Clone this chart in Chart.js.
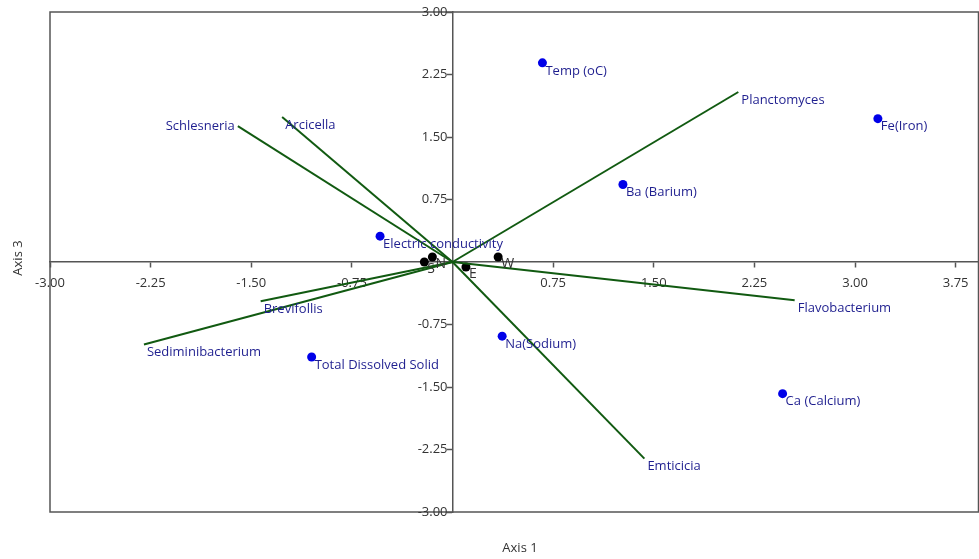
<!DOCTYPE html>
<html>
<head>
<meta charset="utf-8">
<script src="https://cdn.jsdelivr.net/npm/chart.js@4.4.1/dist/chart.umd.min.js"></script>
<style>
	html, body { margin: 0; padding: 0; background: #ffffff; overflow: hidden; }
	#wrap { width: 979px; height: 559px; position: relative; overflow: hidden; }
</style>
</head>
<body>
<div id="wrap"><canvas id="biplot" width="983" height="559"></canvas></div>
<script>
// species vectors (drawn from origin)
const vectorNames = ["Schlesneria", "Arcicella", "Planctomyces", "Flavobacterium", "Emticicia", "Brevifollis", "Sediminibacterium"];
const vectorX = [-1.60, -1.27, 2.13, 2.55, 1.43, -1.43, -2.30];
const vectorY = [1.63, 1.74, 2.04, -0.46, -2.36, -0.47, -0.99];

// environmental variables
const envNames = ["Temp (oC)", "Fe(Iron)", "Ba (Barium)", "Electric conductivity", "Total Dissolved Solid", "Na(Sodium)", "Ca (Calcium)"];
const envX = [0.67, 3.17, 1.27, -0.54, -1.05, 0.37, 2.46];
const envY = [2.39, 1.72, 0.93, 0.31, -1.14, -0.89, -1.58];

// sampling sites
const siteNames = ["S", "N", "E", "W"];
const siteX = [-0.21, -0.15, 0.10, 0.34];
const siteY = [0.00, 0.06, -0.06, 0.06];

const xTicks = [-3, -2.25, -1.5, -0.75, 0.75, 1.5, 2.25, 3, 3.75];
const yTicks = [-3, -2.25, -1.5, -0.75, 0.75, 1.5, 2.25, 3];

const FONT = "'Open Sans', sans-serif";
const LINE_GREEN = "#115a11";
const LABEL_BLUE = "#1f1f8f";
const AXIS_GREY = "#555555";
const TEXT_GREY = "#333333";

let datasets = [];
for(let i = 0; i < vectorNames.length; i++)
{
	datasets.push({
		label : vectorNames[i],
		data : [{ x : 0, y : 0 }, { x : vectorX[i], y : vectorY[i] }],
		showLine : true,
		borderColor : LINE_GREEN,
		borderWidth : 2,
		pointRadius : 0
	});
}
datasets.push({
	label : "env",
	data : envX.map((x, i) => ({ x : x, y : envY[i] })),
	backgroundColor : "#0000e8",
	borderWidth : 0,
	pointRadius : 4.5
});
datasets.push({
	label : "sites",
	data : siteX.map((x, i) => ({ x : x, y : siteY[i] })),
	backgroundColor : "#000000",
	borderWidth : 0,
	pointRadius : 4.5
});

const frameAndLabels =
{
	id : "frameAndLabels",
	beforeDatasetsDraw(chart)
	{
		const ctx = chart.ctx;
		const a = chart.chartArea;
		ctx.save();
		ctx.strokeStyle = AXIS_GREY;
		ctx.lineWidth = 1.5;
		ctx.strokeRect(a.left, a.top, a.right - a.left, a.bottom - a.top);
		ctx.restore();
	},
	afterDatasetsDraw(chart)
	{
		const ctx = chart.ctx;
		const sx = chart.scales.x;
		const sy = chart.scales.y;
		ctx.save();
		ctx.font = "13px " + FONT;
		ctx.textBaseline = "middle";

		// y tick labels sit left of the axis at x = 0
		const yAxisPx = sx.getPixelForValue(0);
		ctx.fillStyle = TEXT_GREY;
		ctx.textAlign = "right";
		for(let v of yTicks)
			ctx.fillText(v.toFixed(2), yAxisPx - 5, sy.getPixelForValue(v));

		ctx.fillStyle = LABEL_BLUE;
		for(let i = 0; i < vectorNames.length; i++)
		{
			const px = sx.getPixelForValue(vectorX[i]);
			const py = sy.getPixelForValue(vectorY[i]);
			if(vectorNames[i] == "Schlesneria")
			{
				ctx.textAlign = "right";
				ctx.fillText(vectorNames[i], px - 3, py);
			}
			else
			{
				ctx.textAlign = "left";
				ctx.fillText(vectorNames[i], px + 3, py + 8);
			}
		}
		ctx.textAlign = "left";
		for(let i = 0; i < envNames.length; i++)
			ctx.fillText(envNames[i], sx.getPixelForValue(envX[i]) + 3, sy.getPixelForValue(envY[i]) + 8);

		ctx.fillStyle = TEXT_GREY;
		ctx.font = "14px " + FONT;
		for(let i = 0; i < siteNames.length; i++)
			ctx.fillText(siteNames[i], sx.getPixelForValue(siteX[i]) + 3, sy.getPixelForValue(siteY[i]) + 7);

		// axis titles
		ctx.font = "13px " + FONT;
		ctx.textAlign = "center";
		ctx.fillText("Axis 1", 520, 548);
		ctx.translate(18, 258);
		ctx.rotate(-Math.PI / 2);
		ctx.fillText("Axis 3", 0, 0);
		ctx.restore();
	}
};

const axisStyle =
{
	grid : { drawOnChartArea : false, tickLength : 5, color : AXIS_GREY, tickWidth : 1.5 },
	border : { color : AXIS_GREY, width : 1.5 }
};

new Chart(document.getElementById("biplot").getContext("2d"),
{
	type : "scatter",
	data : { datasets : datasets },
	options :
	{
		responsive : false,
		animation : false,
		layout : { padding : { left : 50, top : 12, right : 0, bottom : 47 } },
		plugins :
		{
			legend : { display : false },
			tooltip : { enabled : false }
		},
		scales :
		{
			x :
			{
				type : "linear",
				min : -3,
				max : 3.92,
				position : { y : 0 },
				afterBuildTicks : scale => { scale.ticks = xTicks.map(v => ({ value : v })); },
				ticks :
				{
					autoSkip : false,
					maxRotation : 0,
					padding : 8,
					color : TEXT_GREY,
					font : { family : FONT, size : 13 },
					callback : v => v.toFixed(2)
				},
				...axisStyle
			},
			y :
			{
				type : "linear",
				min : -3,
				max : 3,
				position : { x : 0 },
				afterBuildTicks : scale => { scale.ticks = yTicks.map(v => ({ value : v })); },
				ticks : { display : false },
				...axisStyle
			}
		}
	},
	plugins : [frameAndLabels]
});
</script>
</body>
</html>
